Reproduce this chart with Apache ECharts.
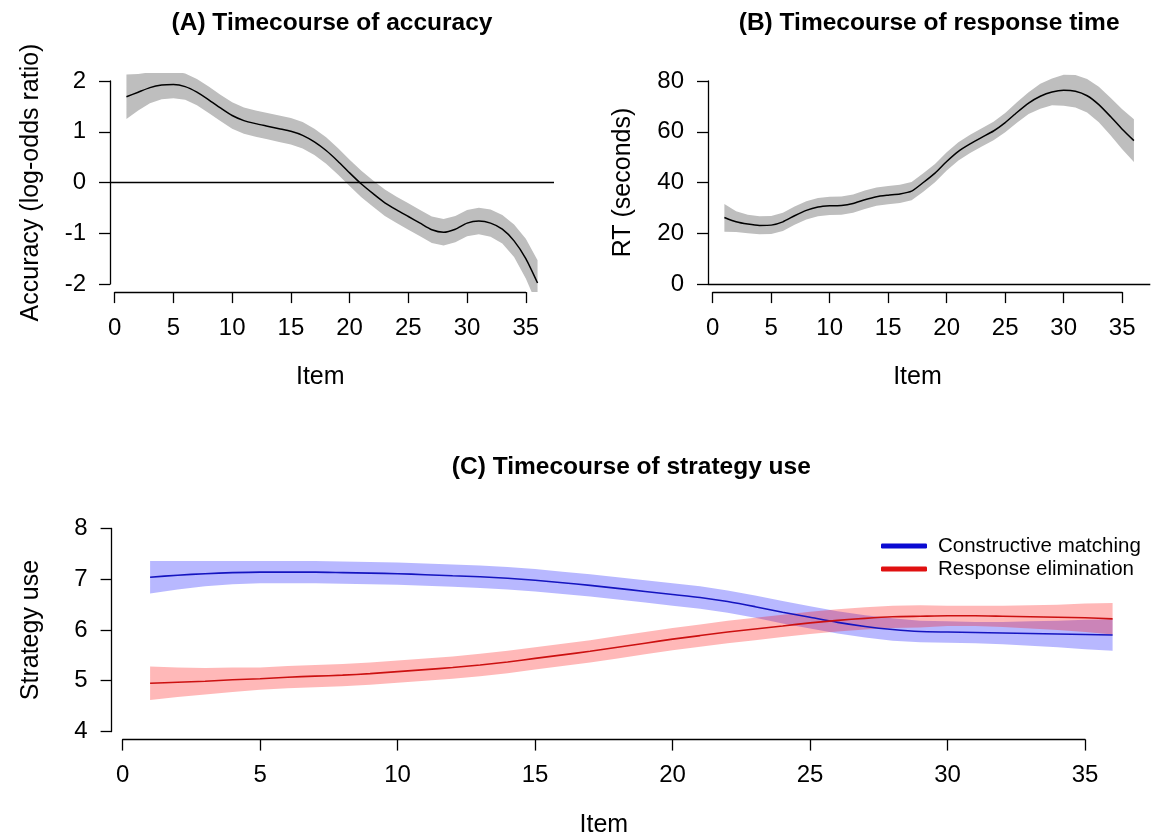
<!DOCTYPE html>
<html>
<head>
<meta charset="utf-8">
<script src="https://cdn.jsdelivr.net/npm/echarts@6.0.0/dist/echarts.min.js"></script>
<style>html,body{margin:0;padding:0;background:#fff}#c{width:1151px;height:839px}</style>
</head>
<body>
<div id="c"></div>
<script>
// ---------- data ----------
const items = [1,2,3,4,5,6,7,8,9,10,11,12,13,14,15,16,17,18,19,20,21,22,23,24,25,26,27,28,29,30,31,32,33,34,35,36];
const xTicks = [0,5,10,15,20,25,30,35];
const accTicks = [-2,-1,0,1,2];
const rtTicks = [0,20,40,60,80];
const stratTicks = [4,5,6,7,8];

const accMean = [1.69,1.78,1.87,1.92,1.93,1.89,1.78,1.63,1.47,1.32,1.22,1.16,1.11,1.06,1.01,0.93,0.80,0.63,0.42,0.19,-0.03,-0.22,-0.40,-0.54,-0.67,-0.80,-0.93,-0.98,-0.92,-0.80,-0.76,-0.80,-0.92,-1.15,-1.50,-1.98];
const accHi   = [2.13,2.14,2.17,2.19,2.19,2.15,2.04,1.89,1.73,1.58,1.48,1.42,1.37,1.32,1.27,1.19,1.06,0.89,0.68,0.45,0.23,0.04,-0.14,-0.28,-0.41,-0.54,-0.67,-0.72,-0.66,-0.54,-0.50,-0.53,-0.64,-0.83,-1.11,-1.53];
const accLo   = [1.25,1.42,1.56,1.64,1.66,1.63,1.52,1.37,1.21,1.06,0.96,0.90,0.85,0.80,0.75,0.67,0.54,0.37,0.16,-0.07,-0.29,-0.48,-0.66,-0.80,-0.93,-1.06,-1.19,-1.24,-1.18,-1.06,-1.02,-1.07,-1.20,-1.47,-1.89,-2.43];

const rtMean = [26.2,24.5,23.6,23.1,23.2,24.5,26.9,29.0,30.3,30.8,30.9,31.7,33.2,34.4,35.0,35.5,36.6,40.0,43.7,48.3,52.3,55.2,57.8,60.3,63.6,67.6,71.3,74.0,75.7,76.4,76.0,74.2,70.7,66.0,61.0,56.5];
const rtHi   = [31.5,28.7,27.3,26.7,26.8,28.1,30.5,32.6,33.9,34.4,34.5,35.3,36.8,38.0,38.6,39.1,40.2,43.6,47.3,51.9,55.9,58.8,61.4,63.9,67.4,71.6,75.6,78.9,81.0,82.5,82.4,80.8,77.7,73.4,68.9,64.9];
const rtLo   = [20.6,20.5,20.0,19.6,19.7,20.9,23.3,25.4,26.7,27.2,27.3,28.1,29.6,30.8,31.4,31.9,33.0,36.4,40.1,44.7,48.7,51.6,54.2,56.7,59.8,63.6,67.0,69.1,70.4,70.3,69.6,67.6,63.7,58.6,53.1,48.1];

const cmMean = [7.04,7.08,7.11,7.13,7.14,7.14,7.14,7.13,7.12,7.11,7.09,7.07,7.05,7.02,6.98,6.93,6.88,6.82,6.76,6.70,6.64,6.56,6.46,6.35,6.25,6.15,6.07,6.01,5.97,5.96,5.95,5.94,5.93,5.92,5.91,5.90];
const cmHi   = [7.36,7.36,7.36,7.36,7.36,7.36,7.36,7.35,7.34,7.33,7.31,7.29,7.27,7.24,7.20,7.15,7.10,7.04,6.98,6.92,6.86,6.78,6.68,6.57,6.47,6.37,6.29,6.23,6.18,6.17,6.16,6.16,6.17,6.18,6.20,6.21];
const cmLo   = [6.72,6.80,6.86,6.90,6.92,6.92,6.92,6.91,6.90,6.89,6.87,6.85,6.83,6.80,6.76,6.71,6.66,6.60,6.54,6.48,6.42,6.34,6.24,6.13,6.03,5.93,5.85,5.79,5.76,5.75,5.74,5.72,5.69,5.66,5.62,5.59];

const reMean = [4.95,4.97,4.99,5.02,5.04,5.07,5.09,5.11,5.14,5.18,5.22,5.26,5.31,5.37,5.44,5.51,5.58,5.66,5.74,5.82,5.89,5.96,6.02,6.08,6.14,6.19,6.23,6.26,6.27,6.28,6.28,6.27,6.26,6.25,6.24,6.22];
const reHi   = [5.28,5.26,5.25,5.26,5.26,5.29,5.31,5.33,5.36,5.40,5.44,5.48,5.53,5.59,5.66,5.73,5.80,5.88,5.96,6.04,6.11,6.18,6.24,6.30,6.36,6.41,6.45,6.48,6.49,6.48,6.48,6.48,6.49,6.50,6.52,6.53];
const reLo   = [4.62,4.68,4.73,4.78,4.82,4.85,4.87,4.89,4.92,4.96,5.00,5.04,5.09,5.15,5.22,5.29,5.36,5.44,5.52,5.60,5.67,5.74,5.80,5.86,5.92,5.97,6.01,6.04,6.05,6.08,6.08,6.06,6.03,6.00,5.96,5.91];

const titles = ['(A) Timecourse of accuracy','(B) Timecourse of response time','(C) Timecourse of strategy use'];
const seriesNames = ['Constructive matching','Response elimination'];

// ---------- layout / styling ----------
const FONT = "'Liberation Sans', Arial, Helvetica, sans-serif";
const grids = [], xAxes = [], yAxes = [], series = [], graphics = [];

function rng(t){ const s=(t[t.length-1]-t[0])*0.04; return [t[0]-s, t[t.length-1]+s]; }
function xDataRange(){ const s=(items[items.length-1]-items[0])*0.04; return [items[0]-s, items[items.length-1]+s]; }

const axisCommon = {
  splitLine:{show:false},
  axisLine:{show:true, onZero:false, lineStyle:{color:'#000', width:1.3}},
  axisTick:{show:true, inside:false, length:11, lineStyle:{color:'#000', width:1.3}},
  axisLabel:{show:true, color:'#000', fontSize:24, fontFamily:FONT, margin:24, showMinLabel:true, showMaxLabel:true},
  nameTextStyle:{color:'#000', fontSize:25, fontFamily:FONT},
  nameLocation:'middle'
};

function addPanel(p){
  const xr = xDataRange(), yr = rng(p.yTicks);
  const b = p.box, W=b.width, H=b.height;
  const xs = W/(xr[1]-xr[0]), ys = H/(yr[1]-yr[0]);
  const dg = grids.length;
  grids.push({left:b.left, top:b.top, width:W, height:H, containLabel:false, outerBoundsMode:'none'});
  xAxes.push({gridIndex:dg, type:'value', min:xr[0], max:xr[1], show:false});
  yAxes.push({gridIndex:dg, type:'value', min:yr[0], max:yr[1], show:false});
  const ag = grids.length;
  const ax=[xTicks[0], xTicks[xTicks.length-1]], ay=[p.yTicks[0], p.yTicks[p.yTicks.length-1]];
  const agLeft = b.left + (ax[0]-xr[0])*xs, agW = (ax[1]-ax[0])*xs;
  const agTop = b.top + (yr[1]-ay[1])*ys, agH = (ay[1]-ay[0])*ys;
  grids.push({left:agLeft, top:agTop, width:agW, height:agH, containLabel:false, outerBoundsMode:'none'});
  xAxes.push(Object.assign({}, axisCommon, {gridIndex:ag, type:'value', position:'bottom',
    min:ax[0], max:ax[1], interval:xTicks[1]-xTicks[0], offset:(b.top+H)-(agTop+agH),
    name:'Item', nameGap:73}));
  yAxes.push(Object.assign({}, axisCommon, {gridIndex:ag, type:'value', position:'left',
    min:ay[0], max:ay[1], interval:p.yTicks[1]-p.yTicks[0], offset:agLeft-b.left,
    name:p.yName, nameGap:p.yNameGap}));
  graphics.push({type:'text', x:b.left+W/2, y:p.titleY, silent:true,
    style:{text:p.title, align:'center', verticalAlign:'middle', textAlign:'center', textVerticalAlign:'middle',
      fontSize:24.5, fontWeight:'bold', fontFamily:FONT, fill:'#000'}});
  return dg;
}

function band(gi, lo, hi, color){
  series.push({type:'custom', xAxisIndex:gi, yAxisIndex:gi, silent:true, clip:true, z:1,
    data: items.map((x,i)=>[x, lo[i], hi[i]]),
    renderItem: function(params, api){
      if (params.dataIndex !== 0) return null;
      const pts = [];
      for (let i=0;i<items.length;i++) pts.push(api.coord([items[i], hi[i]]));
      for (let i=items.length-1;i>=0;i--) pts.push(api.coord([items[i], lo[i]]));
      return {type:'polygon', shape:{points:pts}, style:{fill:color, stroke:null}};
    }});
}
function meanLine(gi, vals, color, width, name, zeroLine, legendColor){
  const s = {type:'line', xAxisIndex:gi, yAxisIndex:gi, symbol:'none', silent:true, smooth:0.2,
    lineStyle:{color:color, width:width}, data: items.map((x,i)=>[x, vals[i]]), z:3};
  if (name){ s.name = name; s.color = legendColor; s.itemStyle = {color:legendColor}; }
  if (zeroLine) s.markLine = {silent:true, symbol:'none', label:{show:false}, animation:false,
    lineStyle:{color:'#000', width:1.3, type:'solid'}, data:[{yAxis:0}]};
  series.push(s);
}

const gA = addPanel({box:{left:110, top:72.9, width:444, height:219.2}, yTicks:accTicks,
  yName:'Accuracy (log-odds ratio)', yNameGap:66, title:titles[0], titleY:23.5});
const gB = addPanel({box:{left:708, top:72.9, width:442.3, height:219.2}, yTicks:rtTicks,
  yName:'RT (seconds)', yNameGap:72, title:titles[1], titleY:23.5});
const gC = addPanel({box:{left:111.6, top:520.4, width:1039.5, height:219.2}, yTicks:stratTicks,
  yName:'Strategy use', yNameGap:68, title:titles[2], titleY:467});

band(gA, accLo, accHi, '#bebebe');
meanLine(gA, accMean, '#000', 1.5, null, true);
band(gB, rtLo, rtHi, '#bebebe');
meanLine(gB, rtMean, '#000', 1.5, null, true);
band(gC, cmLo, cmHi, 'rgba(0,0,255,0.28)');
band(gC, reLo, reHi, 'rgba(255,0,0,0.28)');
meanLine(gC, cmMean, '#1414c0', 1.6, seriesNames[0], false, '#0a0ad2');
meanLine(gC, reMean, '#cc1010', 1.6, seriesNames[1], false, '#e01010');

const chart = echarts.init(document.getElementById('c'), null, {renderer:'canvas'});
chart.setOption({
  animation:false,
  backgroundColor:'#ffffff',
  grid:grids, xAxis:xAxes, yAxis:yAxes, series:series,
  graphic:graphics,
  legend:{data:seriesNames, orient:'vertical', left:881, top:535.4, padding:0, itemWidth:46, itemHeight:5, itemGap:2,
    icon:'roundRect', selectedMode:false,
    textStyle:{fontSize:20.5, color:'#000', fontFamily:FONT, lineHeight:20.6, padding:[0,0,0,6]}},
  tooltip:{show:false}
});
</script>
</body>
</html>
